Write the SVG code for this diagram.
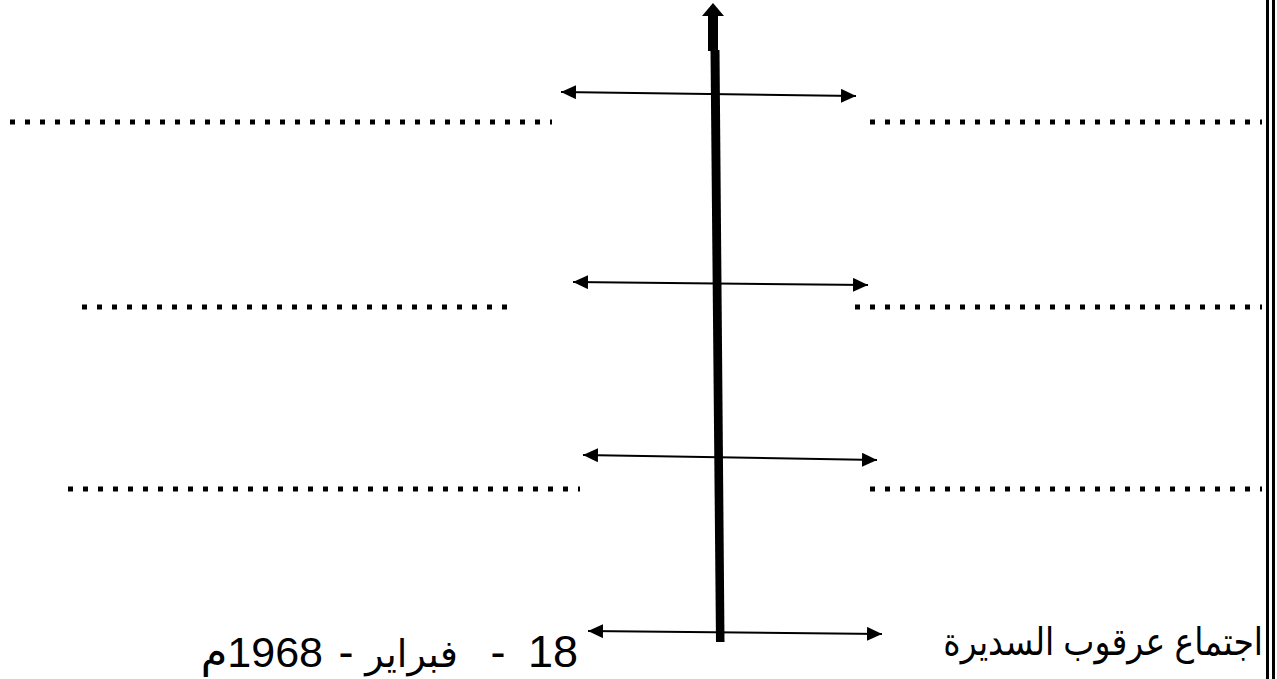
<svg xmlns="http://www.w3.org/2000/svg" width="1277" height="679" viewBox="0 0 1277 679">
<style>
.dots{stroke:#000;stroke-width:5;stroke-dasharray:5 10;fill:none}
.arr{stroke:#000;stroke-width:2;fill:none;marker-start:url(#ah);marker-end:url(#ah)}
.t{font-family:"Liberation Sans","DejaVu Sans",sans-serif;fill:#000}
</style>
<defs>
<marker id="ah" markerUnits="userSpaceOnUse" markerWidth="16" markerHeight="16" refX="15" refY="7" orient="auto-start-reverse">
<path d="M0,0 L15,7 L0,14 z" fill="#000"/>
</marker>
</defs>
<rect width="1277" height="679" fill="#fff"/>
<g id="border">
<rect x="1266" y="0" width="3" height="679" fill="#000"/>
<rect x="1272" y="0" width="3" height="679" fill="#000"/>
</g>
<g id="axis">
<polygon points="713,3 724,16 702,16" fill="#000"/>
<rect x="708" y="15" width="10" height="36" fill="#000"/>
<polygon points="710.5,50 719.5,50 724.5,642 716,642" fill="#000"/>
</g>
<g id="dotted-lines">
<line class="dots" x1="10" y1="122" x2="552" y2="122"/>
<line class="dots" x1="870" y1="122" x2="1262" y2="122"/>
<line class="dots" x1="82" y1="307" x2="508" y2="307"/>
<line class="dots" x1="855" y1="307" x2="1262" y2="307"/>
<line class="dots" x1="68" y1="489" x2="580" y2="489"/>
<line class="dots" x1="870" y1="489" x2="1262" y2="489"/>
</g>
<g id="connectors">
<line class="arr" x1="561" y1="92" x2="856" y2="96"/>
<line class="arr" x1="573" y1="282" x2="868" y2="285"/>
<line class="arr" x1="583" y1="455" x2="877" y2="460"/>
<line class="arr" x1="588" y1="631" x2="882" y2="634"/>
</g>
<g id="label-right">
<text class="t" transform="translate(1263,655) scale(0.87,1)" x="0" y="0" font-size="38" text-anchor="end">اجتماع عرقوب السديرة</text>
</g>
<g id="label-date">
<text class="t" x="578" y="667" font-size="45" text-anchor="end">18</text>
<text class="t" x="498" y="667" font-size="45" text-anchor="middle">-</text>
<text class="t" x="458" y="667" font-size="38" text-anchor="end">فبراير</text>
<text class="t" x="346" y="667" font-size="45" text-anchor="middle">-</text>
<text class="t" x="323" y="667" font-size="43" direction="rtl" text-anchor="start">1968م</text>
</g>
</svg>
